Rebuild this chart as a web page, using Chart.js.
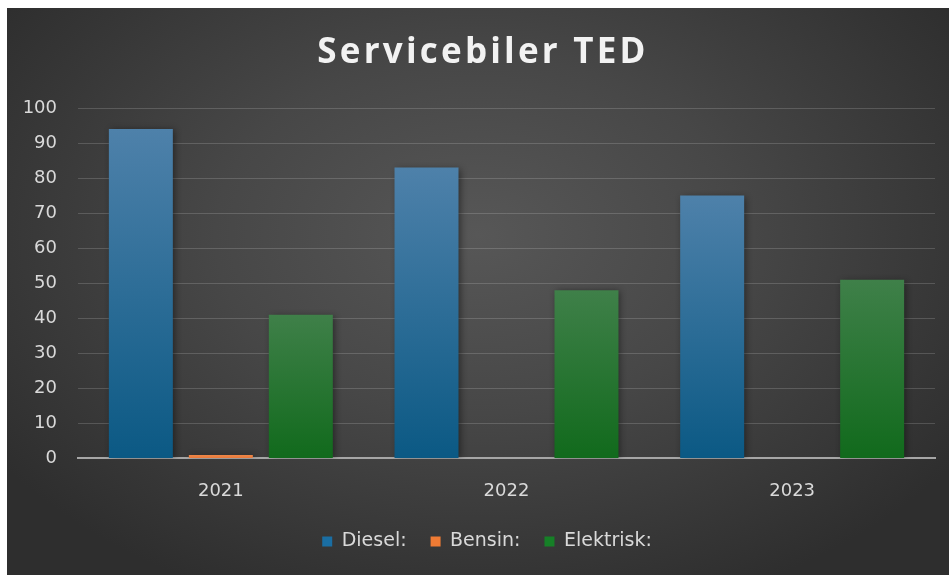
<!DOCTYPE html>
<html>
<head>
<meta charset="utf-8">
<title>Servicebiler TED</title>
<script src="https://cdn.jsdelivr.net/npm/chart.js@4"></script>
<style>
  html, body { margin: 0; padding: 0; background: #fff; }
  #wrap {
    position: absolute; left: 7px; top: 8px; width: 942px; height: 567px;
    background: radial-gradient(ellipse 62% 70% at 50% 40%, #575757 0%, #474747 45%, #2e2e2e 100%);
  }
  canvas { display: block; }
</style>
</head>
<body>
<div id="wrap"><canvas id="chart" width="942" height="567"></canvas></div>
<script>
const years = ["2021", "2022", "2023"];
const diesel = [94, 83, 75];
const bensin = [1, 0, 0];
const elektrisk = [41, 48, 51];
const yTicks = [0, 10, 20, 30, 40, 50, 60, 70, 80, 90, 100];

const titleText = "Servicebiler TED";
const textColor = "#d9d9d9";
const labelFont = { family: "'DejaVu Sans'", size: 18 };

// vertical gradient per bar, lighter at the top of each bar
function barFill(top, bottom) {
    return (ctx) => {
        const chart = ctx.chart;
        const scale = chart.scales.y;
        if (!chart.chartArea || !scale || ctx.parsed == null) return bottom;
        const y0 = scale.getPixelForValue(ctx.parsed.y);
        const y1 = scale.getPixelForValue(0);
        if (!isFinite(y0) || !isFinite(y1) || y1 - y0 < 1) return bottom;
        const g = chart.ctx.createLinearGradient(0, y0, 0, y1);
        g.addColorStop(0, top);
        g.addColorStop(1, bottom);
        return g;
    };
}

const titlePlugin = {
    id: "spacedTitle",
    afterDraw(chart) {
        const c = chart.ctx;
        c.save();
        c.font = "bold 35px 'Open Sans'";
        c.letterSpacing = "3.2px";
        c.fillStyle = "#f2f2f2";
        c.textAlign = "center";
        c.textBaseline = "middle";
        c.fillText(titleText, chart.width / 2 + 5, 45);
        c.restore();
    }
};

// nudge the legend row a little right of centre
const legendShift = {
    id: "legendShift",
    afterLayout(chart) {
        if (chart.legend) {
            chart.legend.left += 16;
            chart.legend.right += 16;
        }
    }
};

const shadowPlugin = {
    id: "barShadow",
    beforeDatasetsDraw(chart) {
        const c = chart.ctx;
        c.save();
        c.shadowColor = "rgba(0,0,0,0.45)";
        c.shadowBlur = 7;
        c.shadowOffsetX = 2;
        c.shadowOffsetY = 1;
    },
    afterDatasetsDraw(chart) {
        chart.ctx.restore();
    }
};

new Chart(document.getElementById("chart"), {
    type: "bar",
    data: {
        labels: years,
        datasets: [
            { label: "Diesel:", data: diesel, backgroundColor: barFill("#4e81aa", "#0b5984"), legendColor: "#1a6ea3" },
            { label: "Bensin:", data: bensin, backgroundColor: barFill("#f08848", "#e6773a"), legendColor: "#ef7b34" },
            { label: "Elektrisk:", data: elektrisk, backgroundColor: barFill("#3f8049", "#116a1c"), legendColor: "#168027" }
        ]
    },
    options: {
        responsive: false,
        animation: false,
        categoryPercentage: 0.84,
        barPercentage: 0.8,
        layout: { padding: { top: 100, right: 14, left: 0, bottom: 14 } },
        plugins: {
            title: { display: false },
            tooltip: { enabled: false },
            legend: {
                position: "bottom",
                labels: {
                    color: textColor,
                    font: { family: "'DejaVu Sans'", size: 19 },
                    boxWidth: 10,
                    boxHeight: 10,
                    padding: 24,
                    generateLabels(chart) {
                        return chart.data.datasets.map((ds, i) => ({
                            text: ds.label,
                            fillStyle: ds.legendColor,
                            strokeStyle: ds.legendColor,
                            lineWidth: 0,
                            fontColor: textColor,
                            datasetIndex: i,
                            hidden: false
                        }));
                    }
                }
            }
        },
        scales: {
            x: {
                grid: { display: false, drawTicks: false },
                border: { display: true, color: "#a6a6a6", width: 2 },
                afterFit(axis) { axis.height -= 16; },
                ticks: {
                    color: textColor,
                    font: labelFont,
                    padding: 22
                }
            },
            y: {
                min: 0,
                max: 100,
                afterBuildTicks(axis) { axis.ticks = yTicks.map(v => ({ value: v })); },
                afterFit(axis) { axis.width = 71; },
                grid: { color: "rgba(255,255,255,0.16)", lineWidth: 1, drawTicks: false },
                border: { display: false },
                ticks: {
                    color: textColor,
                    font: labelFont,
                    padding: 21
                }
            }
        }
    },
    plugins: [shadowPlugin, titlePlugin, legendShift]
});
</script>
</body>
</html>
